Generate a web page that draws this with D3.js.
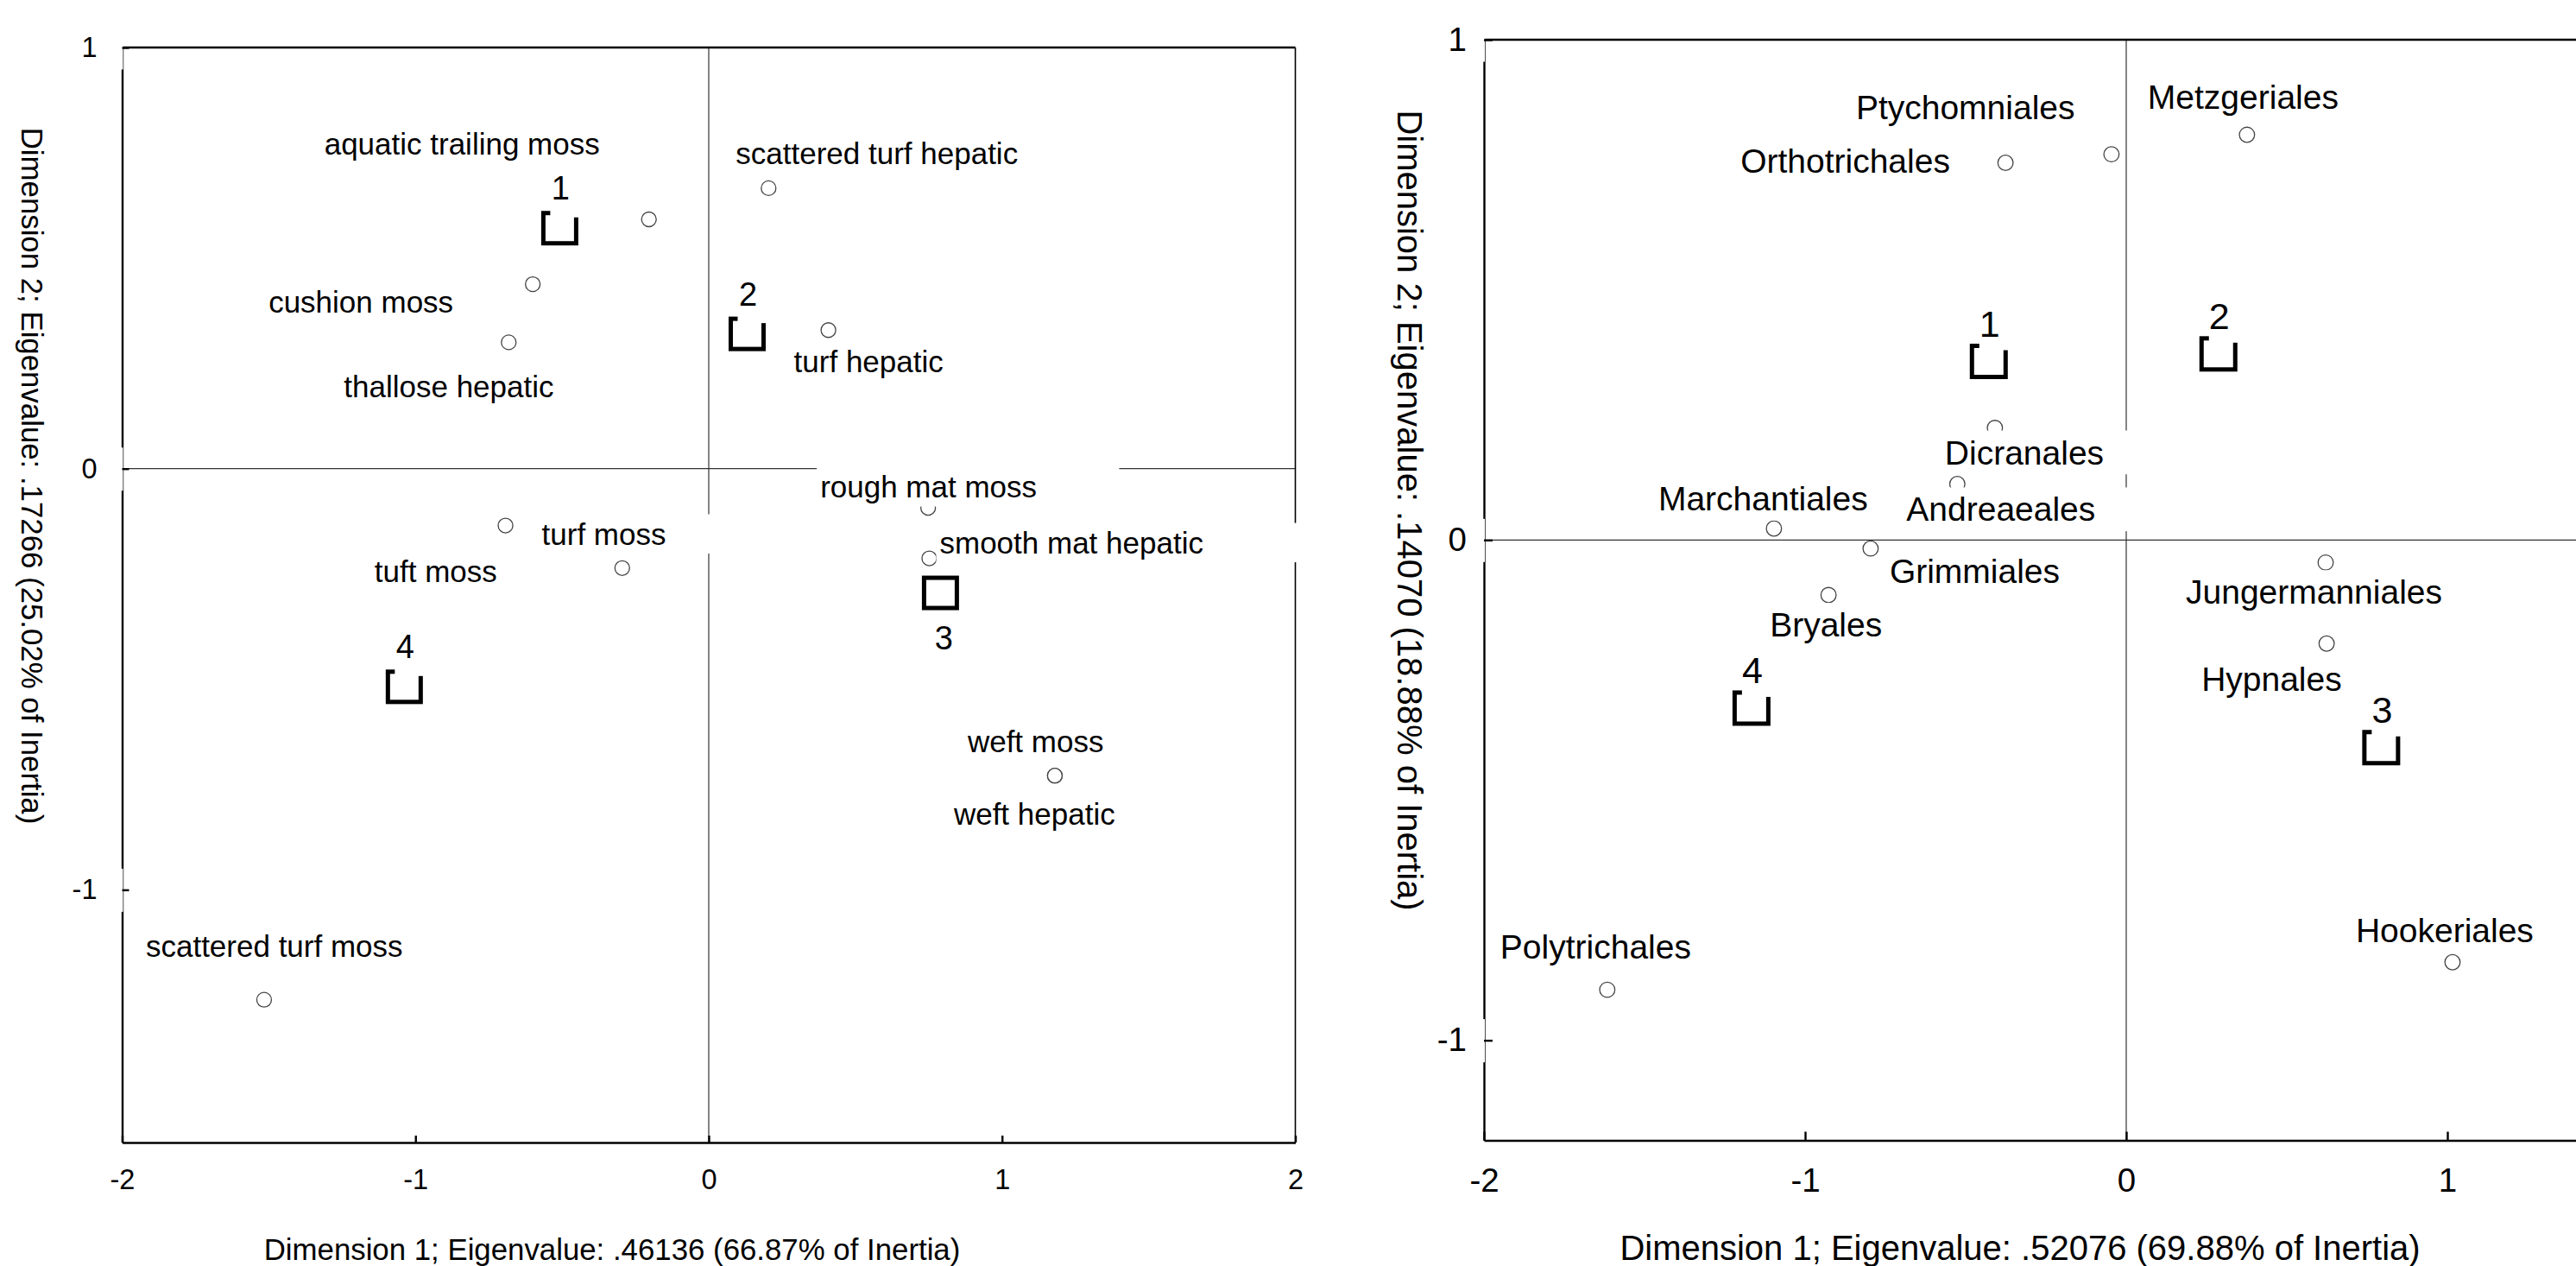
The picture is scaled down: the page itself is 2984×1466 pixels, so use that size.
<!DOCTYPE html>
<html>
<head>
<meta charset="utf-8" />
<title>correspondence analysis - growth forms and orders</title>
<script src="https://cdn.jsdelivr.net/npm/d3@7"></script>
<style>
body { margin: 0; background: #fff; }
svg text { font-family: "Liberation Sans", Arial, sans-serif; fill: #000; }
</style>
</head>
<body>
<svg id="chart"></svg>
<script>

// ---- left panel: growth forms ----
const formNames = ["aquatic trailing moss", "scattered turf hepatic", "cushion moss", "thallose hepatic",
	"turf hepatic", "rough mat moss", "smooth mat hepatic", "turf moss", "tuft moss",
	"weft moss", "weft hepatic", "scattered turf moss"];
const formDim1 = [-0.204, 0.204, -0.600, -0.682, 0.408, 0.748, 0.752, -0.693, -0.295, 1.180, 1.180, -1.516];
const formDim2 = [0.592, 0.666, 0.438, 0.300, 0.329, -0.093, -0.213, -0.135, -0.236, -0.729, -0.729, -1.261];

// supplementary row points (habitat groups)
const groupIds = ["1", "2", "3", "4"];
const formGroupDim1 = [-0.508, 0.131, 0.790, -1.038];
const formGroupDim2 = [0.571, 0.320, -0.295, -0.518];

// ---- right panel: orders ----
const orderNames = ["Ptychomniales", "Orthotrichales", "Metzgeriales", "Dicranales", "Andreaeales",
	"Marchantiales", "Grimmiales", "Bryales", "Jungermanniales", "Hypnales", "Hookeriales", "Polytrichales"];
const orderDim1 = [-0.046, -0.376, 0.376, -0.409, -0.526, -1.097, -0.796, -0.927, 0.621, 0.624, 1.016, -1.616];
const orderDim2 = [0.771, 0.754, 0.810, 0.224, 0.112, 0.023, -0.017, -0.110, -0.045, -0.207, -0.844, -0.899];
const orderGroupDim1 = [-0.428, 0.287, 0.794, -1.167];
const orderGroupDim2 = [0.357, 0.372, -0.415, -0.336];

// ticks and titles (right panel is cut at the page edge, so no "2" there)
const formXTicks = [-2, -1, 0, 1, 2];
const orderXTicks = [-2, -1, 0, 1];
const formYTicks = [-1, 0, 1];
const orderYTicks = [-1, 0, 1];
const formXTitle = "Dimension 1; Eigenvalue: .46136 (66.87% of Inertia)";
const formYTitle = "Dimension 2; Eigenvalue: .17266 (25.02% of Inertia)";
const orderXTitle = "Dimension 1; Eigenvalue: .52076 (69.88% of Inertia)";
const orderYTitle = "Dimension 2; Eigenvalue: .14070 (18.88% of Inertia)";

// label placement, px from the point (left edge, baseline) -- set by hand like the original
const formLabelOffsets = [[-376, -75], [-38, -28], [-306, 33], [-191, 64], [-40, 49], [-125, -12],
	[12, -6], [42, 22], [-287, 16], [-101, -27], [-117, 57], [-137, -50]];
const orderLabelOffsets = [[-296, -41], [-307, 11], [-115, -30], [-58, 42], [-59, 43], [-134, -21],
	[22, 40], [-68, 48], [-162, 48], [-145, 55], [-112, -23], [-124, -36]];
const formGroupSide = ["above", "above", "below", "above"];
const orderGroupSide = ["above", "above", "above", "above"];

const width = 2984, height = 1466;

const svg = d3.select("#chart")
	.attr("width", width)
	.attr("height", height);

function drawPanel(p) {
	const x = d3.scaleLinear().domain([-2, 2]).range(p.xRange);
	const y = d3.scaleLinear().domain(p.yDomain).range(p.yRange);
	const top = p.yRange[1], bottom = p.yRange[0];
	const left = p.xRange[0], right = p.xRange[1];

	let g = svg.append("g");

	// zero lines
	g.append("line")
		.attr("x1", left).attr("x2", right)
		.attr("y1", y(0)).attr("y2", y(0))
		.attr("stroke", "#333").attr("stroke-width", 1.2);
	g.append("line")
		.attr("x1", x(0)).attr("x2", x(0))
		.attr("y1", top).attr("y2", bottom)
		.attr("stroke", "#333").attr("stroke-width", 1.2);

	// frame top / right
	g.append("line")
		.attr("x1", left).attr("x2", right)
		.attr("y1", top).attr("y2", top)
		.attr("stroke", "#000").attr("stroke-width", 2.4);
	g.append("line")
		.attr("x1", right).attr("x2", right)
		.attr("y1", top).attr("y2", bottom)
		.attr("stroke", "#000").attr("stroke-width", 1.6);

	// y axis, tick labels sit on white boxes that cut the axis line
	let yAxis = g.append("g")
		.attr("transform", "translate(" + left + ",0)")
		.call(d3.axisLeft(y)
			.tickValues(p.yTicks)
			.tickSizeInner(-p.tickLen)
			.tickSizeOuter(0)
			.tickPadding(p.yPad)
			.tickFormat(d => String(d)))
		.attr("font-size", null).attr("font-family", null);
	yAxis.select(".domain").attr("stroke-width", 2.4);
	yAxis.selectAll(".tick").insert("rect", "line")
		.attr("x", -(p.yPad + 50)).attr("width", p.yPad + 51)
		.attr("y", -25).attr("height", 50)
		.attr("fill", "#fff");
	yAxis.selectAll(".tick line").attr("stroke-width", 2.4);
	yAxis.selectAll(".tick text").style("font-size", p.tickFont + "px");

	// x axis
	let xAxis = g.append("g")
		.attr("transform", "translate(0," + bottom + ")")
		.call(d3.axisBottom(x)
			.tickValues(p.xTicks)
			.tickSizeInner(-p.tickLen)
			.tickSizeOuter(0)
			.tickPadding(p.xPad)
			.tickFormat(d => String(d)))
		.attr("font-size", null).attr("font-family", null);
	xAxis.select(".domain").attr("stroke-width", 2.4);
	xAxis.selectAll(".tick line").attr("stroke-width", 2.4);
	xAxis.selectAll(".tick text").style("font-size", p.tickFont + "px");

	// axis titles
	g.append("text")
		.attr("x", p.xTitlePos[0]).attr("y", p.xTitlePos[1])
		.attr("text-anchor", "middle")
		.style("font-size", p.titleFont + "px")
		.text(p.xTitle);
	g.append("text")
		.attr("transform", "translate(" + p.yTitlePos[0] + "," + p.yTitlePos[1] + ") rotate(90)")
		.attr("text-anchor", "middle")
		.style("font-size", p.titleFont + "px")
		.text(p.yTitle);

	let pts = p.names.map((n, i) => ({ name: n, d1: p.dim1[i], d2: p.dim2[i], off: p.offsets[i] }));

	// column points
	g.append("g").selectAll("circle")
		.data(pts)
		.enter().append("circle")
		.attr("cx", d => x(d.d1))
		.attr("cy", d => y(d.d2))
		.attr("r", p.dotR)
		.attr("fill", "#fff")
		.attr("stroke", "#444")
		.attr("stroke-width", 1.3);

	// point labels with their white boxes
	let labels = g.append("g").selectAll("g")
		.data(pts)
		.enter().append("g");
	labels.append("rect").attr("fill", "#fff");
	labels.append("text")
		.attr("x", d => x(d.d1) + d.off[0])
		.attr("y", d => y(d.d2) + d.off[1])
		.style("font-size", p.labelFont + "px")
		.text(d => d.name);
	labels.each(function(d) {
		let t = d3.select(this).select("text");
		let w = t.node().getComputedTextLength();
		let tx = x(d.d1) + d.off[0], ty = y(d.d2) + d.off[1];
		d3.select(this).select("rect")
			.attr("x", tx - 4)
			.attr("width", w * p.boxScale + 4)
			.attr("y", ty - p.labelFont)
			.attr("height", p.labelFont * 1.3);
	});

	// group markers (open squares), number label above or below
	let groups = g.append("g").selectAll("g")
		.data(groupIds.map((id, i) => ({ id: id, d1: p.gDim1[i], d2: p.gDim2[i], side: p.gSide[i] })))
		.enter().append("g");
	groups.append("rect")
		.attr("x", d => x(d.d1) - p.sqW / 2)
		.attr("y", d => y(d.d2) - p.sqH / 2)
		.attr("width", p.sqW).attr("height", p.sqH)
		.attr("fill", "#fff")
		.attr("stroke", "#000")
		.attr("stroke-width", 5);
	groups.filter(d => d.side == "above").append("rect")
		.attr("x", d => x(d.d1) - 11)
		.attr("width", p.sqW / 2 + 17)
		.attr("y", d => y(d.d2) - p.sqH / 2 - 40)
		.attr("height", 45)
		.attr("fill", "#fff");
	groups.append("text")
		.attr("x", d => x(d.d1) + (d.side == "above" ? 1 : 4))
		.attr("y", d => y(d.d2) + (d.side == "above" ? p.gAbove : p.gBelow))
		.attr("text-anchor", "middle")
		.style("font-size", p.groupFont + "px")
		.text(d => d.id);
}

drawPanel({
	xRange: [141.5, 1500.5], yDomain: [-1.6, 1], yRange: [1323, 55],
	xTicks: formXTicks, yTicks: formYTicks, tickLen: 8, yPad: 29, xPad: 31,
	tickFont: 32.5, labelFont: 35, groupFont: 38, titleFont: 34.8,
	names: formNames, dim1: formDim1, dim2: formDim2, offsets: formLabelOffsets,
	gDim1: formGroupDim1, gDim2: formGroupDim2, gSide: formGroupSide,
	dotR: 8.5, sqW: 38, sqH: 35, gAbove: -33, gBelow: 65, boxScale: 1.38,
	xTitle: formXTitle, yTitle: formYTitle, xTitlePos: [709, 1459], yTitlePos: [25, 551]
});

drawPanel({
	xRange: [1719, 3207], yDomain: [-1.2, 1], yRange: [1320.5, 46],
	xTicks: orderXTicks, yTicks: orderYTicks, tickLen: 10, yPad: 20, xPad: 32,
	tickFont: 38.5, labelFont: 39, groupFont: 43, titleFont: 40,
	names: orderNames, dim1: orderDim1, dim2: orderDim2, offsets: orderLabelOffsets,
	gDim1: orderGroupDim1, gDim2: orderGroupDim2, gSide: orderGroupSide,
	dotR: 8.8, sqW: 39, sqH: 36, gAbove: -28.5, gBelow: 65, boxScale: 1.17,
	xTitle: orderXTitle, yTitle: orderYTitle, xTitlePos: [2340, 1459], yTitlePos: [1619, 591]
});

</script>
</body>
</html>
